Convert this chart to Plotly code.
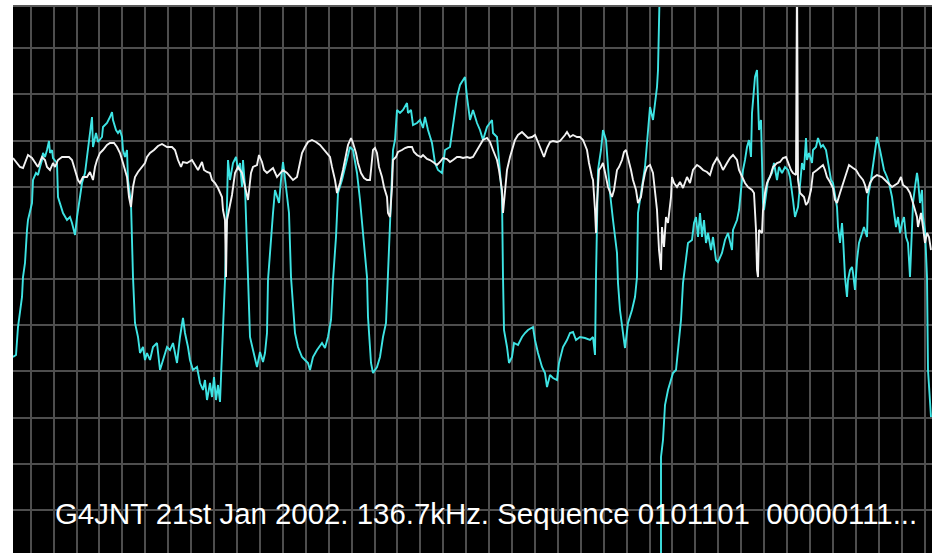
import plotly.graph_objects as go

cyan_x = [0, 3, 5, 9, 10, 12, 14, 15, 19, 20, 23, 25, 27, 29, 30, 32, 34, 36, 37, 39,
          40, 44, 45, 47, 50, 54, 57, 59, 62, 64, 67, 69, 72, 75, 77, 79, 80, 83, 85, 89,
          90, 94, 97, 99, 100, 103, 105, 107, 109, 110, 112, 114, 115, 118, 120, 122, 125, 127, 130, 132,
          134, 137, 140, 144, 147, 150, 154, 157, 160, 164, 167, 170, 172, 175, 177, 180, 184, 187, 190, 192,
          194, 197, 199, 201, 203, 205, 207, 209, 210, 212, 214, 215, 217, 219, 220, 223, 225, 227, 229, 230,
          232, 235, 237, 240, 244, 247, 250, 252, 254, 255, 257, 259, 260, 262, 264, 266, 268, 270, 271, 274,
          276, 278, 280, 282, 285, 289, 292, 295, 297, 300, 304, 309, 312, 315, 318, 320, 323, 325, 329, 332,
          334, 337, 340, 344, 347, 350, 354, 355, 358, 360, 364, 367, 370, 373, 375, 377, 380, 382, 384, 387,
          390, 394, 395, 398, 400, 404, 407, 410, 412, 415, 419, 422, 425, 429, 432, 437, 440, 444, 447, 450,
          452, 454, 457, 460, 464, 467, 470, 474, 479, 480, 484, 486, 489, 490, 491, 494, 496, 499, 501, 505,
          509, 512, 515, 520, 522, 525, 529, 532, 534, 537, 540, 544, 546, 550, 554, 557, 560, 563, 567, 572,
          577, 580, 582, 583, 585, 588, 590, 593, 595, 597, 600, 604, 605, 607, 610, 612, 615, 619, 622, 624,
          625, 629, 632, 634, 635, 637, 640, 642, 644, 645, 646, 647, 647.5, None,
          648, 648, 650, 652, 655, 657, 660, 663, 665, 668, 670, 673, 675, 679, 681, 683, 685, 687, 689, 691,
          693, 695, 698, 700, 703, 705, 709, 712, 715, 719, 720, 724, 726, 729, 730, 732, 734, 736, 738, 739,
          740, 742, 744, 745, 746, 748, 749, 750, 751, 753, 755, 759, 761, 764, 766, 769, 772, 775, 777, 780,
          782, 785, 787, 789, 791, 793, 794, 796, 799, 800, 803, 805, 808, 810, 813, 815, 818, 820, 822, 824,
          825, 827, 829, 830, 832, 834, 835, 837, 839, 840, 842, 844, 846, 849, 851, 854, 855, 858, 860, 862,
          864, 867, 869, 871, 874, 876, 879, 881, 883, 885, 887, 889, 891, 893, 895, 897, 899, 900, 902, 904,
          905, 907, 909, 910, 912, 914, 915, 916, 918, 918]
cyan_y = [196, 198, 226, 256, 276, 290, 323, 333, 350, 373, 380, 378, 386, 393, 400, 396, 403, 412, 400, 403,
          395, 390, 356, 350, 340, 333, 336, 330, 318, 336, 356, 370, 380, 403, 416, 436, 406, 420, 411, 416,
          426, 430, 436, 441, 433, 423, 420, 423, 416, 403, 396, 403, 373, 350, 276, 230, 216, 200, 206, 193,
          200, 193, 206, 210, 183, 193, 206, 203, 210, 190, 216, 235, 220, 206, 193, 183, 186, 170, 163, 173,
          153, 170, 156, 176, 153, 168, 151, 200, 226, 273, 350, 393, 373, 383, 390, 396, 383, 390, 366, 393,
          366, 276, 216, 203, 186, 201, 191, 200, 220, 273, 303, 323, 340, 363, 356, 350, 373, 391, 383, 356,
          340, 276, 250, 220, 206, 196, 193, 190, 183, 196, 203, 210, 205, 216, 233, 273, 316, 360, 373, 386,
          396, 406, 403, 380, 353, 323, 276, 236, 190, 180, 186, 196, 216, 230, 276, 336, 403, 413, 443, 440,
          443, 450, 440, 443, 428, 430, 433, 425, 436, 423, 410, 390, 383, 380, 403, 406, 430, 456, 468, 473,
          476, 456, 433, 443, 430, 423, 413, 426, 433, 420, 416, 393, 356, 276, 223, 206, 190, 196, 210, 208,
          216, 220, 223, 226, 213, 200, 186, 180, 166, 178, 175, 173, 190, 206, 213, 220, 221, 213, 216, 215,
          213, 216, 198, 276, 383, 403, 423, 413, 383, 360, 333, 300, 270, 243, 220, 205, 230, 243, 256, 276,
          340, 366, 386, 410, 423, 446, 433, 450, 466, 483, 513, 546, 600, None,
          -20, 96, 113, 148, 163, 170, 180, 183, 206, 233, 270, 296, 310, 313, 330, 336, 316, 340, 316, 333,
          310, 320, 303, 316, 293, 291, 300, 313, 320, 303, 323, 333, 343, 373, 383, 393, 406, 413, 396, 440,
          456, 476, 483, 456, 423, 433, 383, 350, 343, 360, 373, 380, 390, 373, 386, 380, 386, 383, 376, 353,
          336, 346, 366, 390, 383, 415, 393, 400, 390, 403, 406, 415, 406, 408, 403, 390, 373, 370, 356, 346,
          326, 310, 330, 316, 276, 256, 273, 283, 286, 280, 263, 293, 310, 320, 326, 316, 356, 373, 386, 400,
          416, 403, 393, 383, 376, 370, 356, 340, 326, 336, 320, 330, 336, 316, 310, 276, 323, 350, 366, 380,
          373, 350, 363, 336, 323, 276, 183, 166, 143, 136]

white_x = [0, 4, 7, 10, 13, 15, 19, 22, 25, 29, 32, 34, 37, 40, 42, 45, 49, 52, 56, 59,
           62, 65, 67, 70, 74, 77, 80, 82, 84, 87, 90, 94, 97, 101, 104, 107, 110, 112, 114, 116,
           118, 120, 122, 125, 129, 132, 134, 137, 141, 145, 149, 154, 159, 162, 165, 168, 170, 174, 179, 182,
           185, 189, 191, 194, 197, 199, 202, 205, 209, 210, 212, 213, 214, 216, 219, 222, 225, 229, 231, 233,
           235, 238, 240, 244, 246, 249, 251, 254, 257, 260, 264, 267, 270, 274, 277, 280, 284, 287, 289, 292,
           295, 299, 303, 307, 311, 314, 317, 319, 322, 324, 327, 330, 333, 335, 338, 340, 343, 345, 348, 351,
           354, 357, 359, 360, 362, 364, 366, 369, 371, 374, 375, 377, 379, 380, 383, 385, 389, 392, 395, 399,
           401, 404, 408, 410, 414, 417, 420, 424, 427, 430, 434, 437, 440, 444, 447, 450, 454, 457, 460, 464,
           467, 470, 474, 477, 480, 484, 486, 489, 490, 492, 494, 497, 500, 502, 505, 509, 512, 515, 519, 522,
           525, 528, 531, 534, 537, 540, 544, 547, 550, 552, 554, 557, 560, 564, 567, 570, 574, 576, 579, 580,
           582, 583, 584, 586, 588, 590, 593, 595, 599, 601, 604, 606, 609, 611, 613, 615, 618, 620, 623, 625,
           628, 630, 632, 634, 637, 640, 642, 644, 646, 648, 649, 651, 653, 655, 658, 659, 661, 664, 667, 670,
           674, 677, 680, 684, 687, 690, 694, 697, 700, 704, 707, 710, 714, 717, 720, 724, 726, 729, 732, 735,
           739, 741, 743, 744, 745, 746, 749, 750, 752, 754, 757, 760, 764, 767, 770, 773, 775, 778, 780, 783,
           784, 785, 787, 791, 793, 795, 798, 800, 804, 807, 810, 812, 814, 817, 820, 822, 824, 827, 830, 834,
           836, 840, 843, 846, 850, 852, 854, 857, 860, 864, 869, 872, 875, 879, 882, 885, 888, 890, 894, 897,
           900, 904, 905, 908, 910, 912, 914, 916, 918]
white_y = [395, 390, 386, 385, 393, 398, 395, 390, 386, 396, 393, 386, 383, 390, 386, 393, 396, 396, 396, 393,
           383, 373, 370, 376, 376, 381, 373, 386, 393, 400, 403, 408, 410, 410, 406, 400, 390, 383, 376, 356,
           346, 366, 376, 381, 386, 390, 396, 400, 403, 407, 409, 406, 406, 403, 393, 386, 391, 390, 393, 388,
           383, 391, 383, 381, 380, 373, 370, 365, 356, 343, 333, 276, 333, 343, 358, 380, 386, 380, 370, 360,
           353, 380, 386, 388, 398, 391, 383, 380, 383, 385, 376, 380, 383, 380, 376, 373, 376, 390, 400, 406,
           411, 413, 411, 408, 403, 400, 396, 386, 373, 360, 370, 383, 400, 408, 415, 410, 400, 390, 380, 375,
           373, 373, 393, 403, 405, 400, 386, 376, 366, 356, 340, 336, 366, 393, 396, 401, 403, 405, 406, 406,
           401, 398, 396, 398, 394, 393, 391, 388, 391, 395, 394, 391, 393, 396, 396, 395, 396, 395, 396, 403,
           408, 413, 415, 411, 403, 393, 383, 363, 340, 366, 383, 396, 406, 413, 418, 421, 418, 415, 416, 418,
           411, 403, 396, 405, 411, 412, 411, 412, 415, 418, 421, 416, 418, 416, 416, 413, 403, 390, 376, 373,
           343, 320, 350, 383, 386, 390, 376, 366, 356, 363, 383, 386, 393, 401, 403, 396, 383, 373, 363, 350,
           356, 370, 380, 386, 388, 380, 360, 343, 303, 283, 326, 306, 336, 330, 356, 376, 370, 366, 371, 365,
           376, 370, 383, 388, 386, 383, 381, 378, 388, 395, 390, 383, 390, 395, 398, 393, 383, 376, 370, 366,
           363, 360, 323, 283, 276, 323, 320, 343, 360, 370, 376, 386, 390, 391, 395, 396, 390, 383, 380, 378,
           580, 373, 360, 356, 348, 351, 363, 380, 383, 386, 388, 383, 376, 371, 365, 353, 350, 360, 370, 383,
           388, 385, 383, 378, 373, 368, 360, 370, 375, 378, 376, 373, 370, 366, 368, 370, 376, 368, 365, 360,
           350, 336, 326, 340, 326, 310, 320, 316, 303]

caption = "G4JNT 21st Jan 2002. 136.7kHz. Sequence 0101101  00000111..."

fig = go.Figure()
fig.add_trace(go.Scatter(x=cyan_x, y=cyan_y, mode="lines",
                         line=dict(color="#3ee3e3", width=1.9),
                         connectgaps=False, hoverinfo="skip"))
fig.add_trace(go.Scatter(x=white_x, y=white_y, mode="lines",
                         line=dict(color="#f2f2f2", width=1.9),
                         hoverinfo="skip"))

grid = "#4e4e4e"
fig.update_layout(
    width=939, height=553,
    margin=dict(l=13, r=7, t=6, b=0),
    paper_bgcolor="white", plot_bgcolor="black",
    showlegend=False,
    xaxis=dict(range=[0, 919], tick0=17.7, dtick=22.92, showgrid=True,
               gridcolor=grid, gridwidth=2, zeroline=False,
               showticklabels=False, ticks="", fixedrange=True),
    yaxis=dict(range=[0, 547], tick0=43, dtick=46.17, showgrid=True,
               gridcolor=grid, gridwidth=2, zeroline=False,
               showticklabels=False, ticks="", fixedrange=True),
    shapes=[dict(type="line", xref="paper", yref="paper", x0=0, x1=1, y0=1, y1=1,
                 line=dict(color="#5a5a5a", width=2))],
    annotations=[dict(x=40, y=40, xref="x", yref="y", xanchor="left", yanchor="middle",
                      text=caption, showarrow=False,
                      font=dict(family="Liberation Sans, Arial, sans-serif", size=29.4, color="white"))],
)

fig.write_html("out.html")
